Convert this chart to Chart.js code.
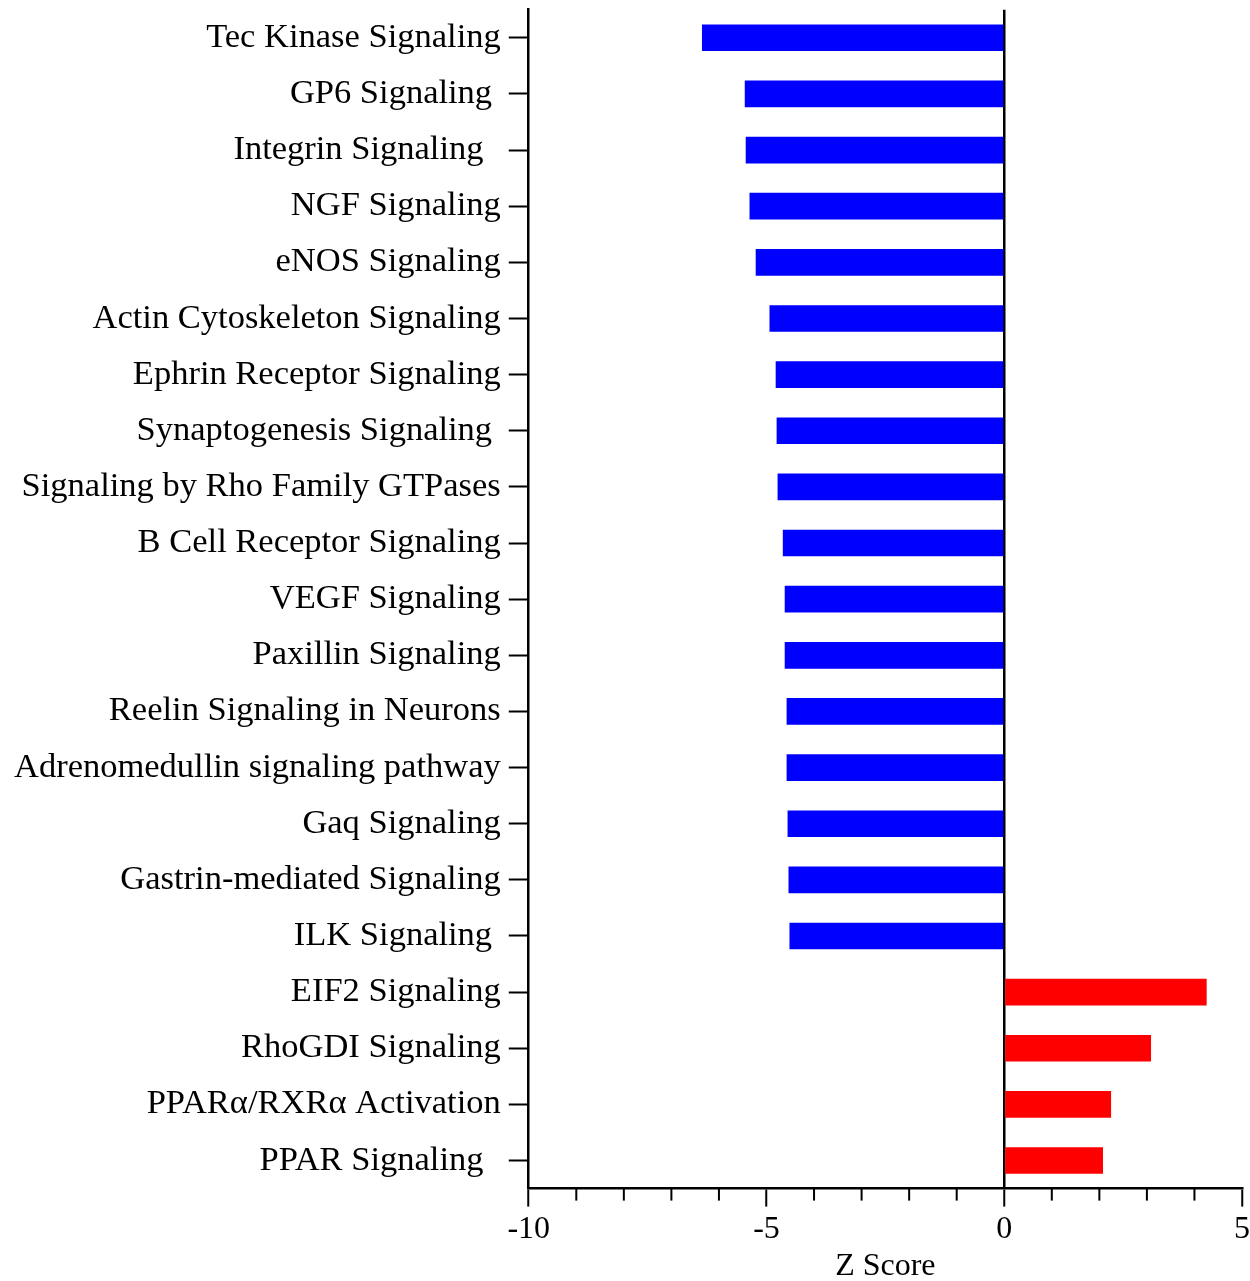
<!DOCTYPE html>
<html>
<head>
<meta charset="utf-8">
<script src="https://cdn.jsdelivr.net/npm/chart.js@4.4.0/dist/chart.umd.min.js"></script>
<style>
  html, body { margin: 0; padding: 0; background: #fff; }
  #wrap { width: 1250px; height: 1281px; }
</style>
</head>
<body>
<div id="wrap"><canvas id="myChart" width="1250" height="1281"></canvas></div>
<script>
// pathways, top to bottom
var pathways = [
  "Tec Kinase Signaling",
  "GP6 Signaling ",
  "Integrin Signaling  ",
  "NGF Signaling",
  "eNOS Signaling",
  "Actin Cytoskeleton Signaling",
  "Ephrin Receptor Signaling",
  "Synaptogenesis Signaling ",
  "Signaling by Rho Family GTPases",
  "B Cell Receptor Signaling",
  "VEGF Signaling",
  "Paxillin Signaling",
  "Reelin Signaling in Neurons",
  "Adrenomedullin signaling pathway",
  "Gaq Signaling",
  "Gastrin-mediated Signaling",
  "ILK Signaling ",
  "EIF2 Signaling",
  "RhoGDI Signaling",
  "PPARα/RXRα Activation",
  "PPAR Signaling  "
];
var zScores = [-6.35, -5.45, -5.43, -5.35, -5.22, -4.93, -4.80, -4.78, -4.76, -4.65,
               -4.61, -4.61, -4.57, -4.57, -4.55, -4.53, -4.51, 4.25, 3.08, 2.24, 2.07];
var xMin = -10, xMax = 5;

var barColors = zScores.map(function(v){ return v < 0 ? '#0000ff' : '#ff0000'; });

// short minor ticks on the x axis (library only has one tick length)
var minorTicks = {
  id: 'minorTicks',
  afterDraw: function(chart) {
    var sx = chart.scales.x, c = chart.ctx;
    c.save();
    c.strokeStyle = '#000';
    c.lineWidth = 2;
    for (var v = xMin; v <= xMax; v++) {
      if (v % 5 === 0) continue;
      var px = sx.getPixelForValue(v);
      c.beginPath();
      c.moveTo(px, sx.top);
      c.lineTo(px, sx.top + 12);
      c.stroke();
    }
    c.restore();
  }
};

var ctx = document.getElementById('myChart').getContext('2d');
var chart = new Chart(ctx, {
  type: 'bar',
  data: {
    labels: pathways,
    datasets: [{
      data: zScores,
      backgroundColor: barColors,
      borderWidth: 0,
      barThickness: 26
    }]
  },
  options: {
    indexAxis: 'y',
    responsive: false,
    animation: false,
    devicePixelRatio: 1,
    layout: { padding: { top: 0, right: 0, left: 6, bottom: 0 } },
    plugins: { legend: { display: false }, tooltip: { enabled: false } },
    scales: {
      x: {
        type: 'linear',
        min: xMin,
        max: xMax,
        ticks: {
          stepSize: 1,
          autoSkip: false,
          maxRotation: 0,
          color: '#000',
          padding: 0,
          font: { family: 'Liberation Serif', size: 32, lineHeight: 1.45 },
          callback: function(v) { return v % 5 === 0 ? v : ''; }
        },
        grid: {
          drawOnChartArea: true,
          color: function(c) { return c.tick && c.tick.value === 0 ? '#000' : 'rgba(0,0,0,0)'; },
          lineWidth: 2.5,
          tickLength: 18,
          tickWidth: 2,
          tickColor: function(c) { return c.tick && c.tick.value % 5 === 0 ? '#000' : 'rgba(0,0,0,0)'; }
        },
        border: { display: true, color: '#000', width: 2.5 },
        title: {
          display: true,
          text: 'Z Score',
          color: '#000',
          padding: { top: 0, bottom: 0 },
          font: { family: 'Liberation Serif', size: 32, lineHeight: 0.875 }
        }
      },
      y: {
        ticks: {
          color: '#000',
          padding: 8,
          autoSkip: false,
          font: { family: 'Liberation Serif', size: 34.5, lineHeight: 0.1 }
        },
        grid: {
          offset: false,
          drawOnChartArea: false,
          tickLength: 20,
          tickWidth: 2,
          tickColor: '#000'
        },
        border: { display: true, color: '#000', width: 2.5 }
      }
    }
  },
  plugins: [minorTicks]
});
</script>
</body>
</html>
